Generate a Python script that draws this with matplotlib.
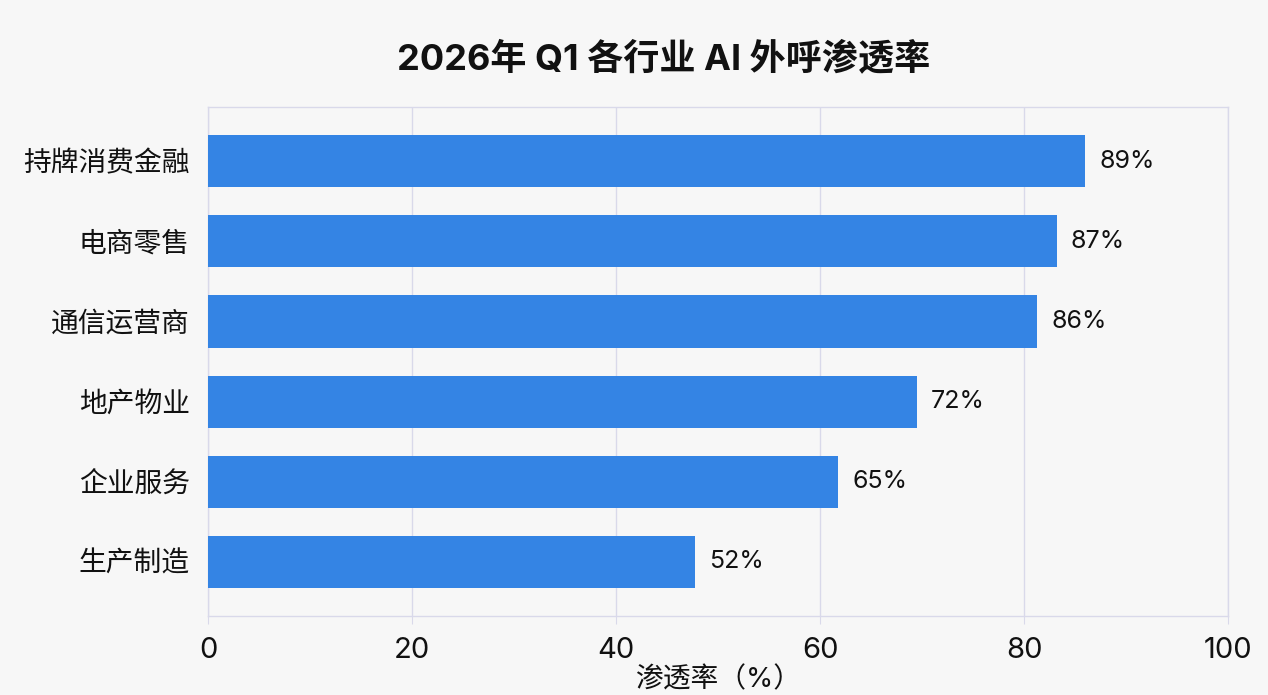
import matplotlib
matplotlib.use("Agg")
import matplotlib.pyplot as plt

plt.rcParams['font.family'] = ['Inter', 'Noto Sans CJK SC', 'DejaVu Sans']

# данные
industries = ["持牌消费金融", "电商零售", "通信运营商", "地产物业", "企业服务", "生产制造"]
bar_values = [86.0, 83.2, 81.3, 69.5, 61.8, 47.7]
value_labels = ["89%", "87%", "86%", "72%", "65%", "52%"]
x_ticks = [0, 20, 40, 60, 80, 100]

bg = "#f7f7f7"
line_col = "#d9d9ea"

fig = plt.figure(figsize=(12.68, 6.95), dpi=100, facecolor=bg)
ax = fig.add_axes([0.164, 0.1137, 0.8045, 0.7323], facecolor=bg)

ypos = list(range(len(industries)))
ax.barh(ypos, bar_values, height=0.65, color="#3484e4", zorder=3)

for y, v, lab in zip(ypos, bar_values, value_labels):
    ax.text(v + 1.4, y, lab, va="center", ha="left", fontsize=18, color="#111111")

ax.set_xlim(0, 100)
ax.set_ylim(5.68, -0.68)
ax.set_yticks(ypos)
ax.set_yticklabels(industries, fontsize=20, color="#111111")
ax.set_xticks(x_ticks)
ax.set_xticklabels([str(t) for t in x_ticks], fontsize=21, color="#111111")
ax.tick_params(axis="y", length=0, pad=13)
ax.tick_params(axis="x", length=6, color=line_col, pad=9)

ax.grid(axis="x", color=line_col, linewidth=1, zorder=0)
for s in ax.spines.values():
    s.set_color(line_col)
    s.set_linewidth(1)

ax.set_xlabel("渗透率（%）", fontsize=20, color="#111111", labelpad=2)
fig.text(0.523, 0.915, "2026年 Q1 各行业 AI 外呼渗透率", fontsize=26, fontweight="bold",
         ha="center", va="center", color="#111111")

fig.savefig("out.png", dpi=100, facecolor=bg)
